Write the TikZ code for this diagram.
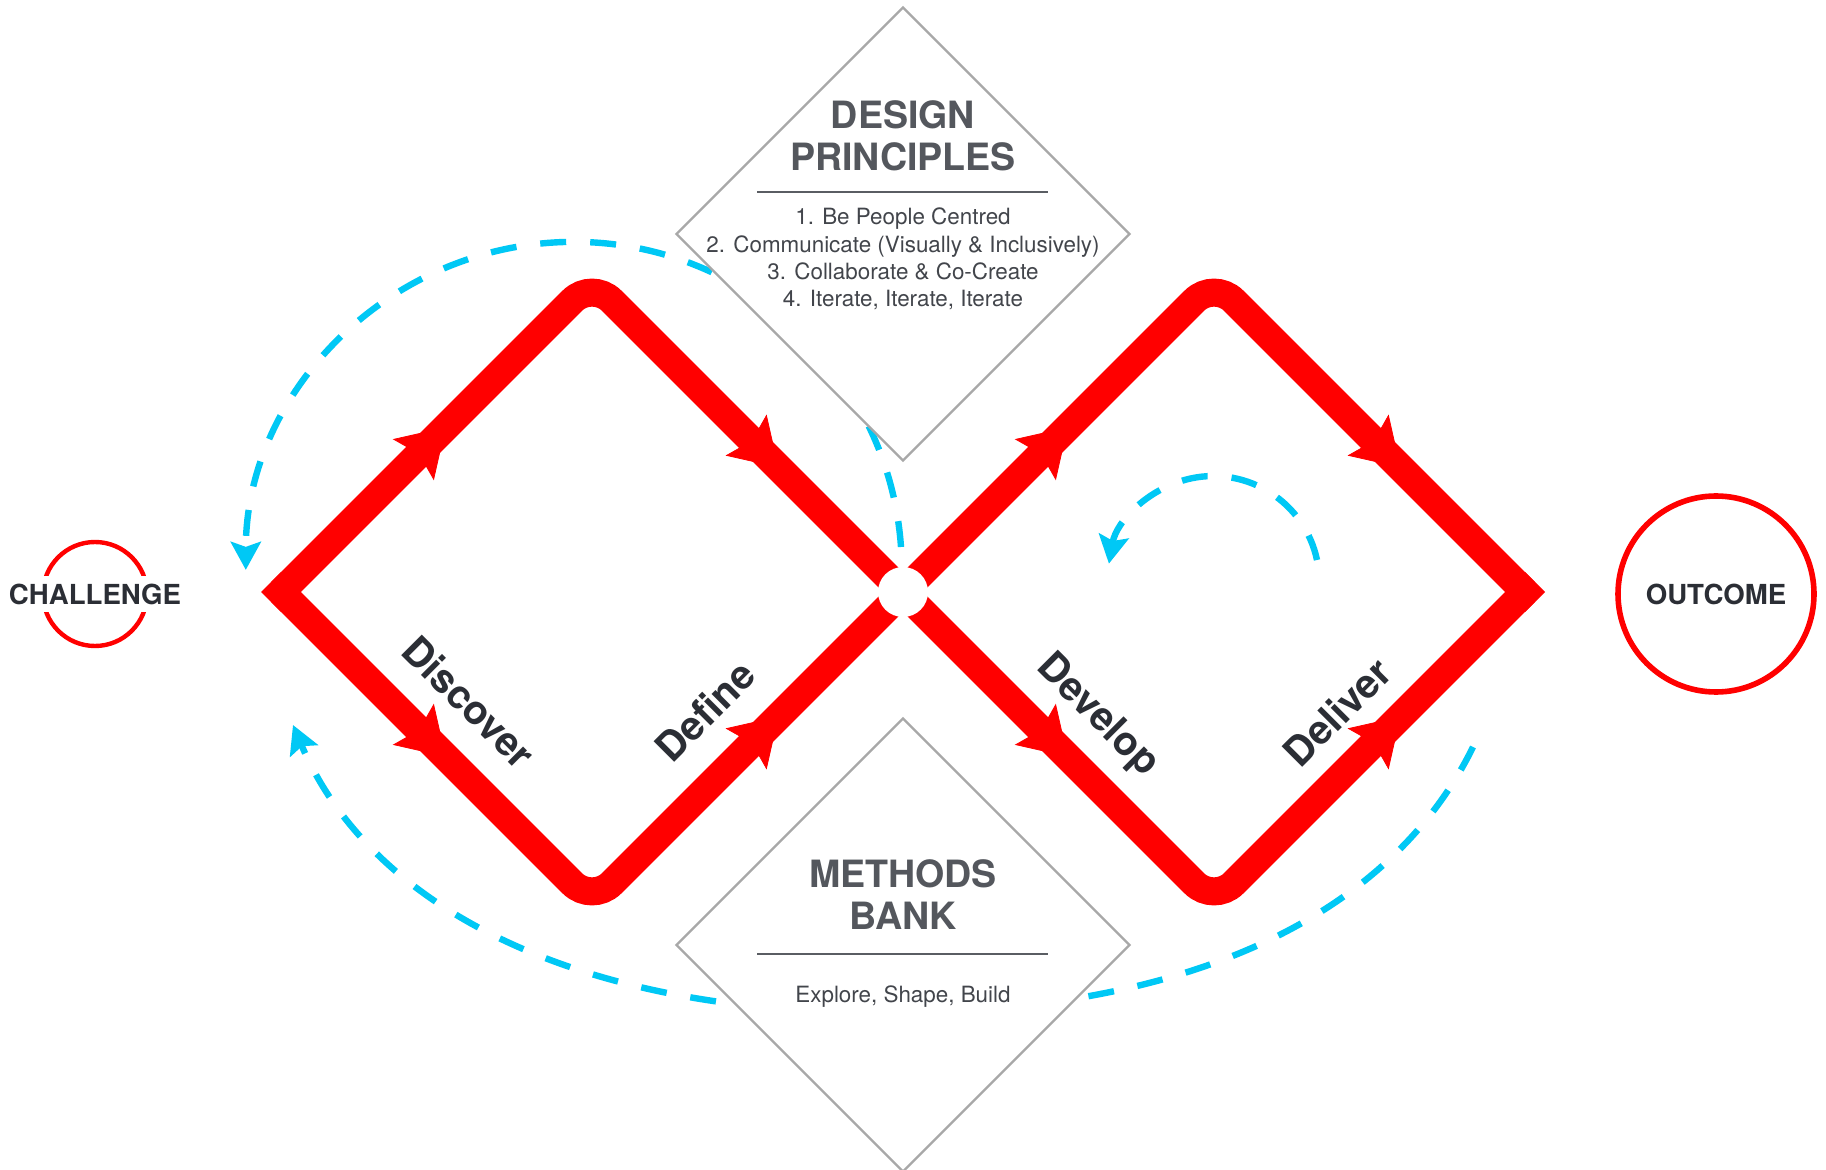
\documentclass[tikz,border=0pt]{standalone}
\usepackage{fontspec}
\setmainfont{TeX Gyre Heros}
\usetikzlibrary{arrows.meta,decorations.markings,shapes.geometric}
\definecolor{dred}{RGB}{255,0,0}
\definecolor{dblue}{RGB}{0,200,245}
\definecolor{dgray}{RGB}{168,168,168}
\definecolor{rulegray}{RGB}{90,93,99}
\definecolor{titlegray}{RGB}{84,87,93}
\definecolor{textgray}{RGB}{66,69,75}
\definecolor{labeldark}{RGB}{43,46,53}
\begin{document}
\begin{tikzpicture}[x=0.5pt,y=-0.5pt,
  redline/.style={draw=dred, line width=14pt, rounded corners=14pt},
  loopline/.style={draw=dblue, line width=3.2pt, dash pattern=on 13pt off 12pt,
     -{Stealth[length=14pt,width=15pt,inset=2.5pt]}},
  midarrow/.style={decoration={markings, mark=at position #1 with
     {\arrow[color=dred]{Stealth[length=23pt,width=29pt,inset=4pt]}}}, decorate},
  panel/.style={diamond, aspect=1, draw=dgray, line width=1.2pt, fill=white,
     minimum width=227pt, minimum height=227pt, inner sep=0pt},
  paneltitle/.style={font=\fontsize{18.8}{22}\selectfont\bfseries, text=titlegray, inner sep=0pt, anchor=base},
  panelbody/.style={font=\fontsize{11.2}{13}\selectfont, text=textgray, inner sep=0pt, anchor=base},
  rulebar/.style={draw=rulegray, line width=1pt},
  phase/.style={font=\fontsize{20}{22}\selectfont\bfseries, text=labeldark, inner sep=0pt},
  endlabel/.style={font=\fontsize{13.8}{16}\selectfont\bfseries, text=labeldark},
]
\path[use as bounding box, fill=white] (0,0) rectangle (1826,1170);

% key points of the double diamond
\coordinate (L) at (281,592);
\coordinate (T) at (592,281);
\coordinate (C) at (903,592);
\coordinate (B) at (592,903);
\coordinate (T2) at (1214,281);
\coordinate (R) at (1525,592);
\coordinate (B2) at (1214,903);

% blue iteration loops
\coordinate (topS) at (901,547);
\draw[loopline] (topS) arc[start angle=-4, end angle=-180, radius=328];
\coordinate (smallS) at (1317,560);
\draw[loopline] (smallS) arc[start angle=-12, end angle=-170, radius=106];
\coordinate (botS) at (1473,747);
\coordinate (botM) at (885,1013);
\coordinate (botE) at (293,725);
\draw[loopline] (botS) .. controls (1398,900) and (1215,1013) .. (botM)
                       .. controls (555,1013) and (365,895) .. (botE);

% grey panels
\node[panel] (dp) at (903,234) {};
\node[panel] (mb) at (903,945) {};

% red double diamond
\draw[redline] (L) -- (T) -- (C);
\draw[redline] (L) -- (B) -- (C);
\draw[redline] (C) -- (T2) -- (R);
\draw[redline] (C) -- (B2) -- (R);
\fill[dred] (L) ++(-20,0) -- ++(20,-20) -- ++(20,20) -- ++(-20,20) -- cycle;
\fill[dred] (R) ++(20,0) -- ++(-20,-20) -- ++(-20,20) -- ++(20,20) -- cycle;
\node[circle, fill=white, minimum size=25pt, inner sep=0pt] (hub) at (C) {};

\path[midarrow=0.53] (L) -- (T);
\path[midarrow=0.60] (T) -- (C);
\path[midarrow=0.53] (L) -- (B);
\path[midarrow=0.60] (B) -- (C);
\path[midarrow=0.53] (C) -- (T2);
\path[midarrow=0.60] (T2) -- (R);
\path[midarrow=0.53] (C) -- (B2);
\path[midarrow=0.60] (B2) -- (R);

% phase labels
\node[phase, rotate=-45] (discover) at (469,702) {Discover};
\node[phase, rotate=45] (define) at (705,711) {Define};
\node[phase, rotate=-45] (develop) at (1097,716) {Develop};
\node[phase, rotate=45] (deliver) at (1337,712) {Deliver};

% design principles text
\node[paneltitle] (dpt1) at (903,128.5) {DESIGN};
\node[paneltitle] (dpt2) at (903,170.5) {PRINCIPLES};
\draw[rulebar] (757,192) -- (1048,192);
\node[panelbody] (dp1) at (903,225) {1. Be People Centred};
\node[panelbody] (dp2) at (903,252.5) {2. Communicate (Visually \& Inclusively)};
\node[panelbody] (dp3) at (903,280) {3. Collaborate \& Co-Create};
\node[panelbody] (dp4) at (903,307) {4. Iterate, Iterate, Iterate};

% methods bank text
\node[paneltitle] (mbt1) at (903,887) {METHODS};
\node[paneltitle] (mbt2) at (903,929) {BANK};
\draw[rulebar] (757,954) -- (1048,954);
\node[panelbody] (mb1) at (903,1002) {Explore, Shape, Build};

% challenge and outcome
\node[circle, draw=dred, line width=2.2pt, minimum size=52pt, inner sep=0pt] (chring) at (95,594) {};
\node[endlabel, fill=white, inner sep=4pt] (challenge) at (95,594) {CHALLENGE};
\node[endlabel, circle, draw=dred, line width=2.8pt, minimum size=98pt, inner sep=0pt] (outcome) at (1716,594) {OUTCOME};
\end{tikzpicture}
\end{document}
